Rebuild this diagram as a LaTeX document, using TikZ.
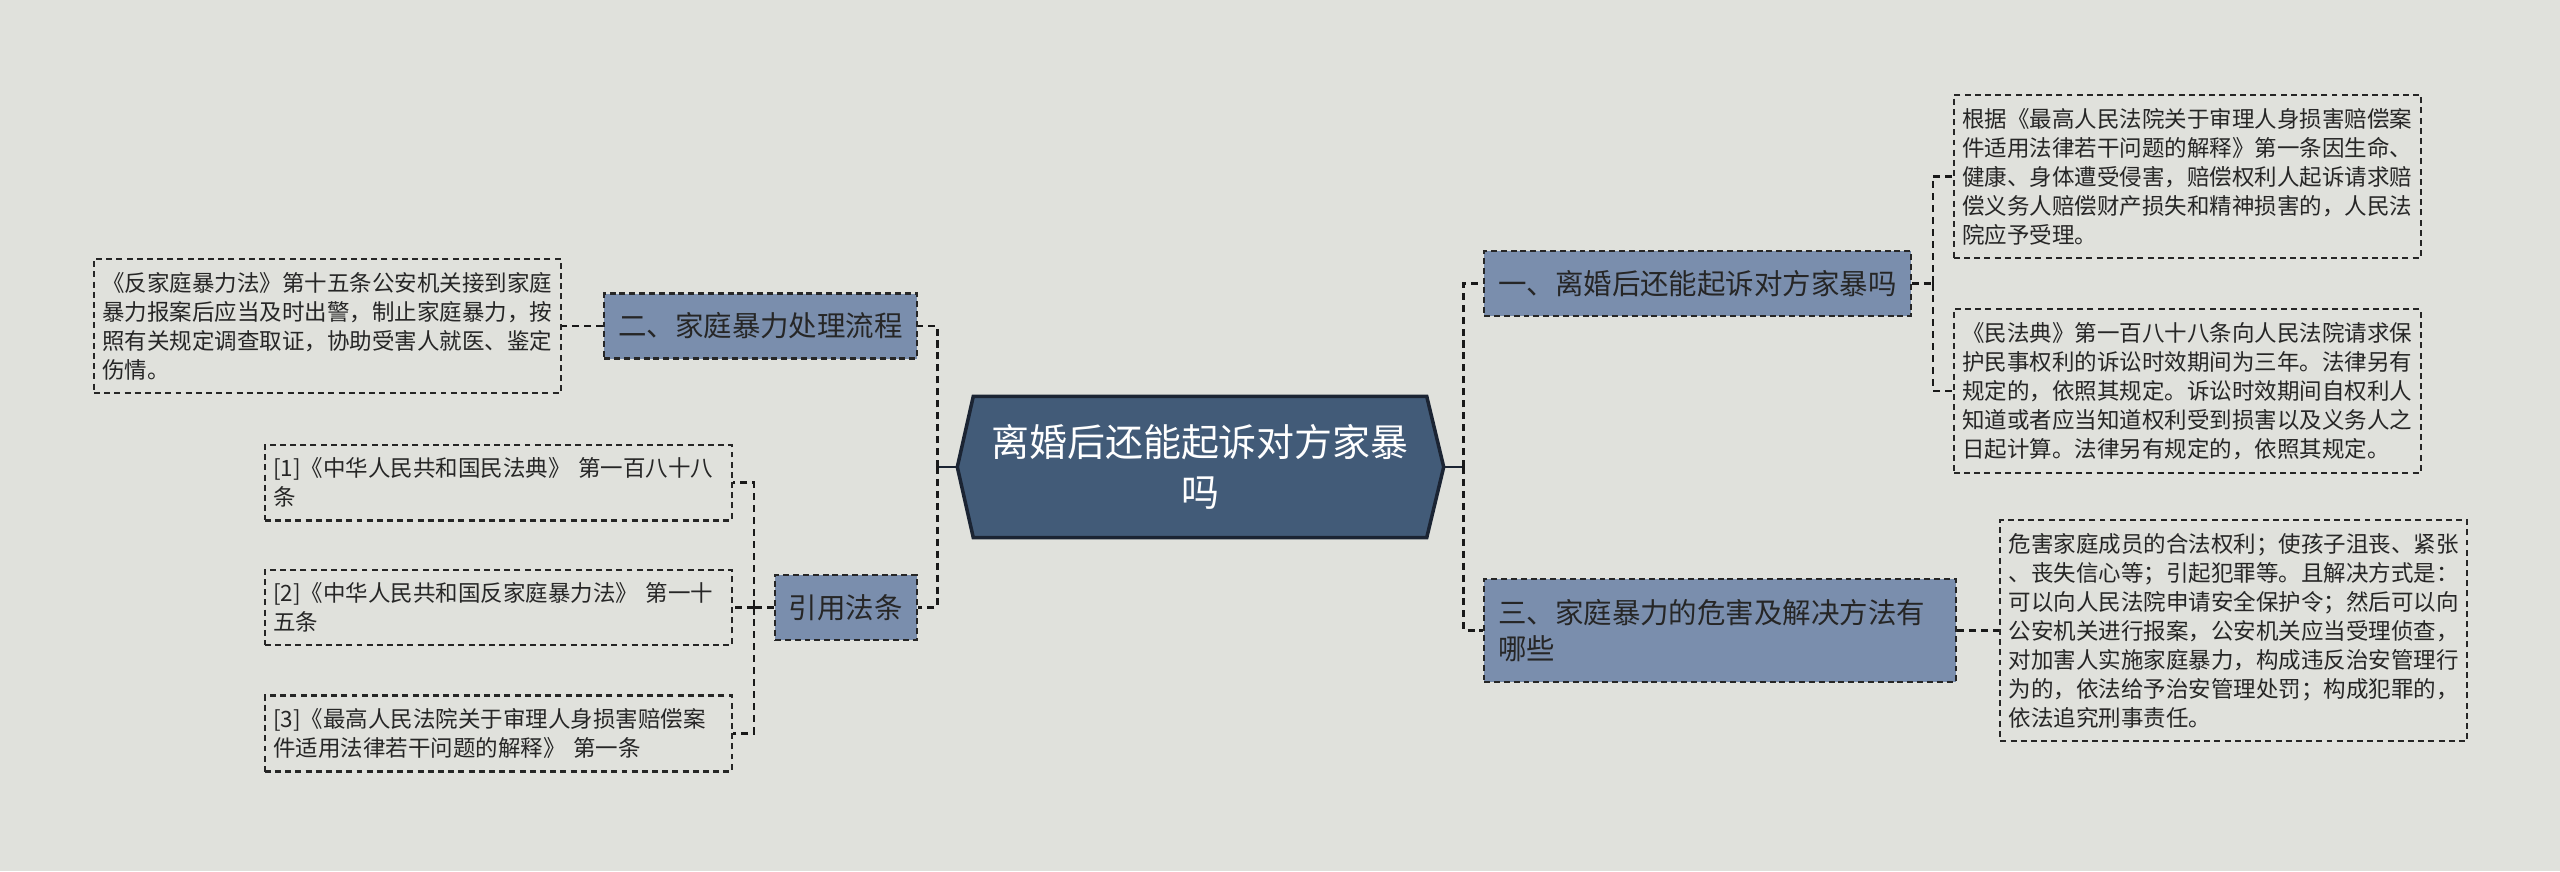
\documentclass[tikz,border=0pt]{standalone}
\usepackage{fontspec}
\setmainfont{Noto Sans CJK SC}
\usepackage{xcolor}
\definecolor{bggray}{HTML}{E0E1DC}
\definecolor{rootblue}{HTML}{425B78}
\definecolor{rootedge}{HTML}{1B2433}
\definecolor{topicblue}{HTML}{7A8EAD}
\definecolor{inkgray}{HTML}{262626}
\usetikzlibrary{positioning,backgrounds}

\begin{document}
\begin{tikzpicture}[
        root/.style={rectangle, minimum width=4.52cm, minimum height=1.40cm, inner sep=0pt, align=center, text=white, font=\fontsize{10.8pt}{14.2pt}\selectfont},
        topic/.style={rectangle, draw=inkgray, dash pattern=on 1.7pt off 1.1pt, line width=0.65pt, fill=topicblue, text=inkgray, inner xsep=0.14cm, minimum height=0.65cm, font=\fontsize{8.1pt}{10.2pt}\selectfont},
        leaf/.style={rectangle, draw=inkgray, dash pattern=on 1.7pt off 1.2pt, line width=0.6pt, text=inkgray, text width=4.5cm, inner xsep=0.085cm, inner ysep=0.13cm, align=left, font=\fontsize{6.4pt}{8.25pt}\selectfont},
        link/.style={draw=black!90, line width=0.75pt, dash pattern=on 2pt off 1.4pt},
        stub/.style={draw=rootedge, line width=0.8pt}
    ]
        \useasboundingbox (0,0) rectangle (25.6,8.71);

        % centre
        \node[root] (root) at (12.00,4.04) {离婚后还能起诉对方家暴\\吗};
        \coordinate (rootL) at ([xshift=-0.16cm]root.west);
        \coordinate (rootR) at ([xshift=0.17cm]root.east);
        \coordinate (lhub) at ([xshift=-0.2cm]rootL);
        \coordinate (rhub) at ([xshift=0.2cm]rootR);

        % left side
        \node[topic, anchor=east] (flow) at (9.18,5.45) {二、家庭暴力处理流程};
        \node[leaf, left=0.41cm of flow] (flowtxt) {《反家庭暴力法》第十五条公安机关接到家庭\\暴力报案后应当及时出警，制止家庭暴力，按\\照有关规定调查取证，协助受害人就医、鉴定\\伤情。};

        \node[topic, anchor=east] (laws) at (9.18,2.635) {引用法条};
        \node[leaf, left=0.41cm of laws] (law2) {[2]《中华人民共和国反家庭暴力法》 第一十\\五条};
        \node[leaf, above=0.47cm of law2] (law1) {[1]《中华人民共和国民法典》 第一百八十八\\条};
        \node[leaf, below=0.48cm of law2] (law3) {[3]《最高人民法院关于审理人身损害赔偿案\\件适用法律若干问题的解释》 第一条};
        \coordinate (lawhub) at ([xshift=-0.2cm]laws.west);

        % right side
        \node[topic, anchor=west] (sue) at (14.83,5.875) {一、离婚后还能起诉对方家暴吗};
        \node[leaf, right=0.41cm of sue, yshift=1.07cm] (sue1) {根据《最高人民法院关于审理人身损害赔偿案\\件适用法律若干问题的解释》第一条因生命、\\健康、身体遭受侵害，赔偿权利人起诉请求赔\\偿义务人赔偿财产损失和精神损害的，人民法\\院应予受理。};
        \node[leaf, below=0.49cm of sue1] (sue2) {《民法典》第一百八十八条向人民法院请求保\\护民事权利的诉讼时效期间为三年。法律另有\\规定的，依照其规定。诉讼时效期间自权利人\\知道或者应当知道权利受到损害以及义务人之\\日起计算。法律另有规定的，依照其规定。};
        \coordinate (suehub) at ([xshift=0.21cm]sue.east);

        \node[topic, anchor=west, text width=4.44cm, align=left, inner ysep=0.2cm] (harm) at (14.83,2.405) {三、家庭暴力的危害及解决方法有\\哪些};
        \node[leaf, right=0.42cm of harm] (harmtxt) {危害家庭成员的合法权利；使孩子沮丧、紧张\\、丧失信心等；引起犯罪等。且解决方式是：\\可以向人民法院申请安全保护令；然后可以向\\公安机关进行报案，公安机关应当受理侦查，\\对加害人实施家庭暴力，构成违反治安管理行\\为的，依法给予治安管理处罚；构成犯罪的，\\依法追究刑事责任。};

        % connectors
        \draw[stub] (rootL) -- (lhub);
        \draw[stub] (rootR) -- (rhub);
        \draw[link] (lhub) |- (flow.east);
        \draw[link] (lhub) |- (laws.east);
        \draw[link] (rhub) |- (sue.west);
        \draw[link] (rhub) |- (harm.west);
        \draw[link] (flow.west) -- (flowtxt.east);
        \draw[link] (laws.west) -- (lawhub);
        \foreach \n in {law1,law2,law3}
            \draw[link] (lawhub) |- (\n.east);
        \draw[link] (sue.east) -- (suehub);
        \foreach \n in {sue1,sue2}
            \draw[link] (suehub) |- (\n.west);
        \draw[link] (harm.east) -- (harmtxt.west);

        \begin{scope}[on background layer]
            \fill[bggray] (0,0) rectangle (25.6,8.71);
            \filldraw[fill=rootblue, draw=rootedge, line width=1pt] (root.north west) -- (root.north east) -- (rootR) -- (root.south east) -- (root.south west) -- (rootL) -- cycle;
        \end{scope}
    \end{tikzpicture}
\end{document}
